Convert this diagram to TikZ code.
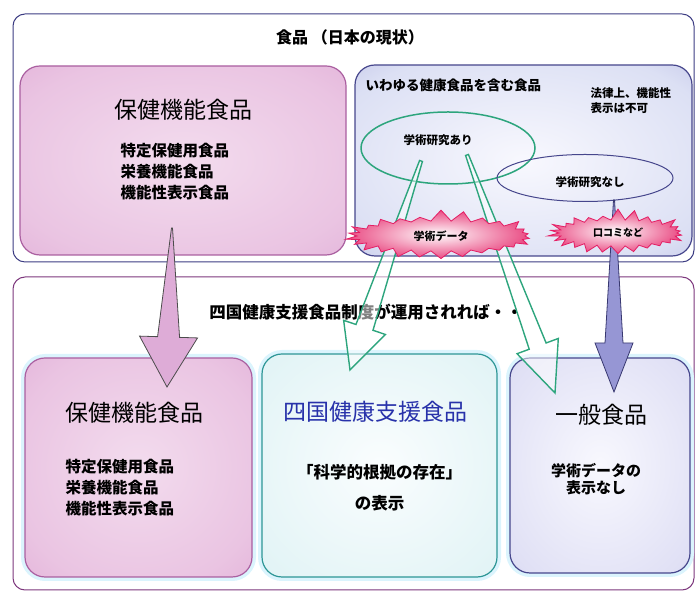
\documentclass[tikz,border=0pt]{standalone}
\usepackage{fontspec}
\setmainfont{Noto Sans CJK JP}
\usetikzlibrary{shapes.geometric,shapes.symbols,calc,positioning}

\definecolor{azulmold}{RGB}{60,60,130}
\definecolor{roxomold}{RGB}{125,55,125}
\definecolor{rosaborda}{RGB}{170,95,160}
\definecolor{rosafundo}{RGB}{222,172,215}
\definecolor{azulborda}{RGB}{70,70,140}
\definecolor{azulfundo}{RGB}{150,150,212}
\definecolor{cianoborda}{RGB}{45,150,150}
\definecolor{verdeseta}{RGB}{45,165,125}
\definecolor{vermelho}{RGB}{228,30,100}
\definecolor{azultexto}{RGB}{40,50,170}

% sombreados das caixas
\pgfdeclareradialshading{sombrarosa}{\pgfpoint{0bp}{0bp}}{color(0bp)=(rgb,255:red,243;green,220;blue,238); color(28bp)=(rgb,255:red,234;green,196;blue,226); color(46bp)=(rgb,255:red,222;green,168;blue,212); color(54bp)=(rgb,255:red,208;green,145;blue,198); color(70bp)=(rgb,255:red,200;green,135;blue,192)}
\pgfdeclareradialshading{sombraazul}{\pgfpoint{0bp}{0bp}}{color(0bp)=(rgb,255:red,248;green,248;blue,254); color(30bp)=(rgb,255:red,220;green,224;blue,244); color(46bp)=(rgb,255:red,178;green,180;blue,225); color(54bp)=(rgb,255:red,125;green,125;blue,196); color(70bp)=(rgb,255:red,105;green,105;blue,188)}
\pgfdeclareradialshading{sombraciano}{\pgfpoint{0bp}{0bp}}{color(0bp)=(rgb,255:red,250;green,253;blue,254); color(36bp)=(rgb,255:red,224;green,243;blue,245); color(46bp)=(rgb,255:red,170;green,222;blue,226); color(54bp)=(rgb,255:red,100;green,188;blue,193); color(70bp)=(rgb,255:red,80;green,175;blue,180)}
\pgfdeclareradialshading{sombralilas}{\pgfpoint{0bp}{0bp}}{color(0bp)=(rgb,255:red,248;green,248;blue,254); color(32bp)=(rgb,255:red,224;green,224;blue,245); color(46bp)=(rgb,255:red,185;green,185;blue,228); color(54bp)=(rgb,255:red,140;green,140;blue,203); color(70bp)=(rgb,255:red,120;green,120;blue,192)}

\tikzstyle{moldura} = [draw, rectangle, rounded corners=12pt, line width=1pt]
\tikzstyle{caixarosa} = [draw=rosaborda, rectangle, rounded corners=20pt, line width=1.2pt, shading=sombrarosa]
\tikzstyle{caixaazul} = [draw=azulborda, rectangle, rounded corners=20pt, line width=1.2pt, shading=sombraazul]
\tikzstyle{caixaciano} = [draw=cianoborda, rectangle, rounded corners=20pt, line width=1.2pt, shading=sombraciano]
\tikzstyle{caixalilas} = [draw=azulborda, rectangle, rounded corners=20pt, line width=1.2pt, shading=sombralilas]
\tikzstyle{brilho} = [preaction={draw=cyan!14, line width=8pt}]
\tikzstyle{estrela} = [starburst, draw=vermelho, line width=0.8pt, shade, inner color=white, outer color=vermelho!80, starburst points=26, starburst point height=12pt, random starburst=7, inner sep=0pt]
\tikzstyle{grande} = [font=\fontsize{23}{27}\selectfont]
\tikzstyle{medio} = [font=\fontsize{16}{20}\selectfont]
\tikzstyle{lista} = [font=\bfseries\fontsize{15.5}{21}\selectfont, align=left, anchor=west]
\tikzstyle{pequeno} = [font=\bfseries\fontsize{11.5}{15}\selectfont]
\tikzstyle{setarosa} = [draw=black!70, line width=0.8pt, fill=rosafundo]
\tikzstyle{setaverde} = [draw=verdeseta, line width=1.4pt, fill=white, fill opacity=0.5]
\tikzstyle{setaazul} = [draw=azulborda!80!black, line width=0.8pt, fill=azulfundo]

% seta afunilada: estilo, origem, destino, meia largura base, haste, ponta, comprimento da ponta
\newcommand{\setacunha}[7]{%
  \coordinate (base) at ($(#3)!#7!(#2)$);
  \path [#1] ($(#2)!#4!90:(#3)$) -- ($(base)!#5!-90:(#2)$) -- ($(base)!#6!-90:(#2)$) -- (#3)
    -- ($(base)!#6!90:(#2)$) -- ($(base)!#5!90:(#2)$) -- ($(#2)!#4!-90:(#3)$) -- cycle;
}

\begin{document}
\begin{tikzpicture}[x=1pt,y=1pt]
\useasboundingbox (0,0) rectangle (698,593);
% molduras
\node [moldura, draw=azulmold, minimum width=681pt, minimum height=248pt] (atual) at (353.5,455) {};
\node [moldura, draw=roxomold, minimum width=681pt, minimum height=313pt] (futuro) at (353.5,159.5) {};
\node [medio, font=\bfseries\fontsize{16}{20}\selectfont] (titulo) at ($(atual)+(-3.5,101)$) {食品 （日本の現状）};
\node [medio, font=\bfseries\fontsize{16.5}{20}\selectfont] (regime) at ($(futuro)+(12.5,121.5)$) {四国健康支援食品制度が運用されれば・・};
% nivel de cima
\node [caixarosa, minimum width=326pt, minimum height=189pt] (hoken1) at (183,432.5) {};
\node [caixaazul, minimum width=337pt, minimum height=191pt] (kenko) at (523.5,432.5) {};
\node [grande] (hoken1tit) at ($(hoken1)+(0,50.5)$) {保健機能食品};
\node [lista] (hoken1sub) at ($(hoken1)+(-66,-11.2)$) {特定保健用食品\\栄養機能食品\\機能性表示食品};
\node [pequeno, font=\bfseries\fontsize{13.5}{16}\selectfont, anchor=west] (kenkotit) at ($(kenko)+(-161.5,75.5)$) {いわゆる健康食品を含む食品};
\node [pequeno, align=left, anchor=west] (houritsu) at ($(kenko)+(63.5,60)$) {法律上、機能性\\表示は不可};
\node [ellipse, draw=verdeseta, line width=1.5pt, minimum width=174pt, minimum height=72pt] (ari) at (448,445) {};
\node [ellipse, draw=azulborda, line width=1pt, minimum width=176pt, minimum height=47pt] (nashi) at (585,415) {};
\node [pequeno] (aritxt) at ($(ari)+(-10,8)$) {学術研究あり};
\node [pequeno] (nashitxt) at ($(nashi)+(5,-4)$) {学術研究なし};
% nivel de baixo
\node [caixarosa, brilho, minimum width=227pt, minimum height=219pt] (hoken2) at (138.5,125.5) {};
\node [caixaciano, brilho, minimum width=235pt, minimum height=223pt] (shikoku) at (379.5,127.5) {};
\node [caixalilas, brilho, minimum width=180pt, minimum height=215pt] (ippan) at (600,127.5) {};
\node [grande] (hoken2tit) at ($(hoken2)+(-4.5,54.5)$) {保健機能食品};
\node [lista] (hoken2sub) at ($(hoken2)+(-76.5,-19.8)$) {特定保健用食品\\栄養機能食品\\機能性表示食品};
\node [grande, text=azultexto] (shikokutit) at ($(shikoku)+(-4.5,53.5)$) {四国健康支援食品};
\node [medio, font=\bfseries\fontsize{16.5}{31}\selectfont, align=center] (shikokusub) at ($(shikoku)+(0,-22)$) {「科学的根拠の存在」\\の表示};
\node [grande] (ippantit) at ($(ippan)+(1,50.5)$) {一般食品};
\node [pequeno, font=\bfseries\fontsize{15}{17}\selectfont, align=center] (ippansub) at ($(ippan)+(-4,-13.5)$) {学術データの\\表示なし};
% setas
\coordinate (r0) at (172,365);
\coordinate (r1) at (167,206);
\coordinate (g0) at (421,432);
\coordinate (g1) at (350,223);
\coordinate (h0) at (467,438);
\coordinate (h1) at (555,200);
\coordinate (b0) at (614,393);
\coordinate (b1) at (614,201);
\setacunha{setarosa}{r0}{r1}{0.5pt}{11pt}{29pt}{50pt}
\setacunha{setaverde}{g0}{g1}{1.5pt}{9pt}{22pt}{45pt}
\setacunha{setaverde}{h0}{h1}{1.5pt}{9pt}{22pt}{50pt}
\setacunha{setaazul}{b0}{b1}{0.5pt}{9pt}{19pt}{49pt}
% estrelas
\node [estrela, minimum width=192pt, minimum height=54pt] (dados) at (441,357) {};
\node [estrela, minimum width=142pt, minimum height=50pt] (boca) at (618,360) {};
\node [pequeno, font=\bfseries\fontsize{11}{13}\selectfont] (dadostxt) at (dados) {学術データ};
\node [pequeno, font=\bfseries\fontsize{10}{12}\selectfont] (bocatxt) at (boca) {口コミなど};
\end{tikzpicture}
\end{document}
